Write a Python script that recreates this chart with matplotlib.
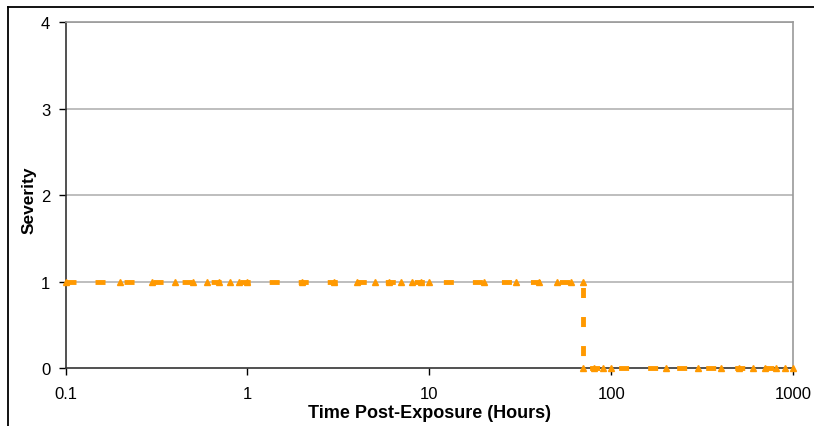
import matplotlib
matplotlib.use("Agg")
import matplotlib.pyplot as plt
from matplotlib.lines import Line2D

plt.rcParams['font.family'] = ['Liberation Sans', 'DejaVu Sans']
plt.rcParams['lines.scale_dashes'] = False

# Data
time_hours = [0.1, 0.2, 0.3, 0.4, 0.5, 0.6, 0.7, 0.8, 0.9,
              1, 2, 3, 4, 5, 6, 7, 8, 9,
              10, 20, 30, 40, 50, 60, 70, 70, 80, 90,
              100, 200, 300, 400, 500, 600, 700, 800, 900, 1000]
severity = [1, 1, 1, 1, 1, 1, 1, 1, 1,
            1, 1, 1, 1, 1, 1, 1, 1, 1,
            1, 1, 1, 1, 1, 1, 1, 0, 0, 0,
            0, 0, 0, 0, 0, 0, 0, 0, 0, 0]
x_ticks = [0.1, 1, 10, 100, 1000]
x_tick_labels = ["0.1", "1", "10", "100", "1000"]
y_ticks = [0, 1, 2, 3, 4]

orange = "#FF9900"

fig = plt.figure(figsize=(8.14, 4.27), dpi=100)
ax = fig.add_axes([0.0805, 0.1351, 0.9746 - 0.0805, 0.9454 - 0.1351])

ax.set_xscale('log')
ax.set_xlim(0.1, 1000)
ax.set_ylim(0, 4)

for y in y_ticks[1:]:
    ax.axhline(y, color="#b3b3b3", linewidth=1.2, zorder=1)

ax.plot(time_hours, severity, color=orange, linewidth=3.5,
        dashes=(7.2, 13.7), marker='^', markersize=4.5,
        markerfacecolor=orange, markeredgecolor=orange, zorder=3,
        clip_on=False)

ax.set_xticks(x_ticks)
ax.set_xticklabels(x_tick_labels)
ax.xaxis.set_minor_locator(matplotlib.ticker.NullLocator())
ax.set_yticks(y_ticks)
ax.set_yticklabels([str(v) for v in y_ticks])

ax.tick_params(axis='both', direction='out', length=5, width=1,
               labelsize=12, colors='black', pad=6)
ax.tick_params(axis='x', pad=8)

for side in ['left', 'bottom']:
    ax.spines[side].set_color('#333333')
    ax.spines[side].set_linewidth(1.2)
for side in ['top', 'right']:
    ax.spines[side].set_color('#999999')
    ax.spines[side].set_linewidth(1.2)

ax.set_xlabel("Time Post-Exposure (Hours)", fontsize=13, fontweight='bold')
ax.set_ylabel("Severity", fontsize=12.5, fontweight='bold')
ax.xaxis.set_label_coords(0.5, -0.104)
ax.yaxis.set_label_coords(-0.040, 0.49)

# outer chart frame (left and top edges visible)
W, H = 814, 427
fig.add_artist(Line2D([8 / W, 8 / W], [0, 1 - 8 / H], transform=fig.transFigure,
                      color='black', linewidth=1.3))
fig.add_artist(Line2D([8 / W, 1], [1 - 8 / H, 1 - 8 / H], transform=fig.transFigure,
                      color='black', linewidth=1.3))

fig.savefig("out.png", dpi=100)
